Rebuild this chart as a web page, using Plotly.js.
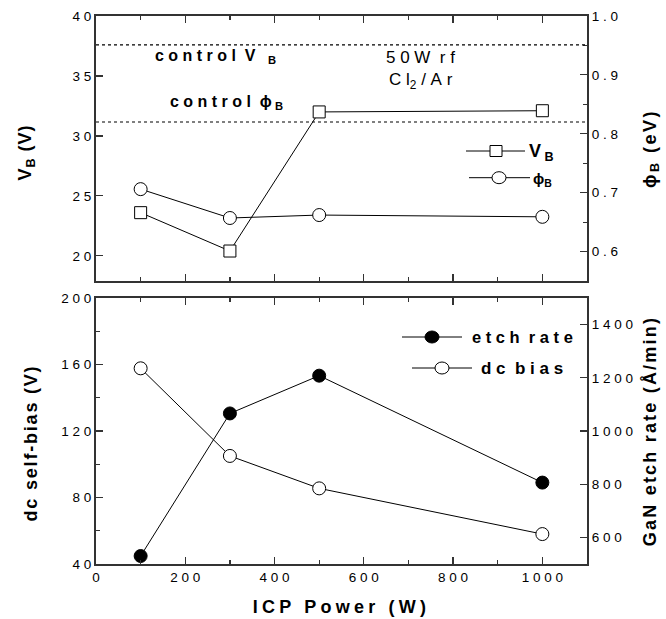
<!DOCTYPE html>
<html>
<head>
<meta charset="utf-8">
<script src="https://cdn.plot.ly/plotly-3.0.1.min.js"></script>
<style>html,body{margin:0;padding:0;background:#fff;}</style>
</head>
<body>
<div id="chart" style="width:666px;height:619px;"></div>
<script>
// ---- data ----
const icpPower = [100, 300, 500, 1000];
const vB = [23.6, 20.4, 32.0, 32.1];            // V_B (V), left top axis
const phiB = [0.706, 0.657, 0.662, 0.659];      // phi_B (eV), right top axis
const controlVB = 37.6;                         // dotted reference, V
const controlPhiB = 0.82;                       // dotted reference, eV
const dcBias = [157.7, 105.0, 85.5, 58.0];      // dc self-bias (V), left bottom
const etchRate = [530, 1066, 1208, 806];        // GaN etch rate (Å/min), right bottom
const xTickVals = [0, 200, 400, 600, 800, 1000];
const xTickText = ["0", "2 0 0", "4 0 0", "6 0 0", "8 0 0", "1 0 0 0"];
const yTopLTickVals = [20, 25, 30, 35, 40];
const yTopLTickText = ["2 0", "2 5", "3 0", "3 5", "4 0"];
const yTopRTickVals = [0.6, 0.7, 0.8, 0.9, 1.0];
const yTopRTickText = ["0 . 6", "0 . 7", "0 . 8", "0 . 9", "1 . 0"];
const yBotLTickVals = [40, 80, 120, 160, 200];
const yBotLTickText = ["4 0", "8 0", "1 2 0", "1 6 0", "2 0 0"];
const yBotRTickVals = [600, 800, 1000, 1200, 1400];
const yBotRTickText = ["6 0 0", "8 0 0", "1 0 0 0", "1 2 0 0", "1 4 0 0"];

const FONT = "Liberation Sans, Arial, sans-serif";
const AX = "#333333";
const NB = "\u00a0";

const baseAxis = {
  showline: true, linecolor: AX, linewidth: 2,
  ticks: "inside", ticklen: 7, tickwidth: 1.2, tickcolor: AX,
  showgrid: false, zeroline: false,
  tickfont: {family: FONT, size: 13.5, color: "#000"},
  tickmode: "array"
};

const traces = [
  {x: icpPower, y: vB, xaxis: "x2", yaxis: "y3", mode: "lines+markers", name: "V_B",
   line: {color: "#000", width: 1},
   marker: {symbol: "square", size: 12, color: "#fff", line: {color: "#000", width: 1}}},
  {x: icpPower, y: phiB, xaxis: "x2", yaxis: "y4", mode: "lines+markers", name: "phi_B",
   line: {color: "#000", width: 1},
   marker: {symbol: "circle", size: 13, color: "#fff", line: {color: "#000", width: 1}}},
  {x: icpPower, y: dcBias, xaxis: "x", yaxis: "y", mode: "lines+markers", name: "dc bias",
   line: {color: "#000", width: 1},
   marker: {symbol: "circle", size: 13, color: "#fff", line: {color: "#000", width: 1}}},
  {x: icpPower, y: etchRate, xaxis: "x", yaxis: "y2", mode: "lines+markers", name: "etch rate",
   line: {color: "#000", width: 1},
   marker: {symbol: "circle", size: 13, color: "#000", line: {color: "#000", width: 1}}}
];

// plot area pixels: x 96..587, y 16..564
const px = v => (v - 96) / 491;
const py = v => (564 - v) / 548;

const shapes = [
  {type: "line", xref: "x2 domain", x0: 0, x1: 1, yref: "y3", y0: controlVB, y1: controlVB,
   line: {color: "#000", width: 1.2, dash: "dot"}},
  {type: "line", xref: "x2 domain", x0: 0, x1: 1, yref: "y4", y0: controlPhiB, y1: controlPhiB,
   line: {color: "#000", width: 1.2, dash: "dot"}},
  // legend top
  {type: "line", xref: "paper", yref: "paper", x0: px(466), x1: px(525), y0: py(151), y1: py(151), line: {color: "#000", width: 1}},
  {type: "rect", xref: "paper", yref: "paper", xsizemode: "pixel", ysizemode: "pixel", xanchor: px(496), yanchor: py(151),
   x0: -6, x1: 6, y0: -5.5, y1: 5.5, fillcolor: "#fff", line: {color: "#000", width: 1}},
  {type: "line", xref: "paper", yref: "paper", x0: px(469), x1: px(530), y0: py(177.7), y1: py(177.7), line: {color: "#000", width: 1}},
  {type: "circle", xref: "paper", yref: "paper", xsizemode: "pixel", ysizemode: "pixel", xanchor: px(499), yanchor: py(177.7),
   x0: -7, x1: 7, y0: -6, y1: 6, fillcolor: "#fff", line: {color: "#000", width: 1}},
  // legend bottom
  {type: "line", xref: "paper", yref: "paper", x0: px(402), x1: px(462), y0: py(337), y1: py(337), line: {color: "#000", width: 1}},
  {type: "circle", xref: "paper", yref: "paper", xsizemode: "pixel", ysizemode: "pixel", xanchor: px(432), yanchor: py(337),
   x0: -7, x1: 7, y0: -6, y1: 6, fillcolor: "#000", line: {color: "#000", width: 1}},
  {type: "line", xref: "paper", yref: "paper", x0: px(412), x1: px(472), y0: py(368), y1: py(368), line: {color: "#000", width: 1}},
  {type: "circle", xref: "paper", yref: "paper", xsizemode: "pixel", ysizemode: "pixel", xanchor: px(442), yanchor: py(368),
   x0: -7, x1: 7, y0: -6, y1: 6, fillcolor: "#fff", line: {color: "#000", width: 1}}
];

const bold = {family: FONT, size: 16, color: "#000"};
const reg = {family: FONT, size: 17, color: "#000"};
const annotations = [
  {xref: "paper", yref: "paper", x: px(153), y: py(57), xanchor: "left", yanchor: "middle", showarrow: false,
   text: "<b>c o n t r o l  V<sub>" + NB + NB + NB + NB + "B</sub></b>", font: bold},
  {xref: "paper", yref: "paper", x: px(168), y: py(103), xanchor: "left", yanchor: "middle", showarrow: false,
   text: "<b>c o n t r o l  ϕ<sub>" + NB + "B</sub></b>", font: bold},
  {xref: "paper", yref: "paper", x: px(420), y: py(58), xanchor: "center", yanchor: "middle", showarrow: false,
   text: "5 0 W" + NB + NB + "r f", font: reg},
  {xref: "paper", yref: "paper", x: px(421), y: py(81), xanchor: "center", yanchor: "middle", showarrow: false,
   text: "C" + NB + "l<sub>2</sub>" + NB + "/" + NB + "A" + NB + "r", font: reg},
  {xref: "paper", yref: "paper", x: px(527), y: py(152), xanchor: "left", yanchor: "middle", showarrow: false,
   text: "<b>V<sub>" + NB + "B</sub></b>", font: {family: FONT, size: 18, color: "#000"}},
  {xref: "paper", yref: "paper", x: px(531), y: py(180), xanchor: "left", yanchor: "middle", showarrow: false,
   text: "<b>ϕ<sub>B</sub></b>", font: {family: FONT, size: 15, color: "#000"}},
  {xref: "paper", yref: "paper", x: px(470), y: py(337), xanchor: "left", yanchor: "middle", showarrow: false,
   text: "<b>e t c h  r a t e</b>", font: {family: FONT, size: 16.5, color: "#000"}},
  {xref: "paper", yref: "paper", x: px(479), y: py(368), xanchor: "left", yanchor: "middle", showarrow: false,
   text: "<b>d c  b i a s</b>", font: {family: FONT, size: 17, color: "#000"}}
];

const titleFont = {family: FONT, size: 18, color: "#000"};

const layout = {
  width: 666, height: 619,
  margin: {l: 96, r: 79, t: 16, b: 55},
  paper_bgcolor: "#fff", plot_bgcolor: "#fff",
  showlegend: false,
  font: {family: FONT, color: "#000"},
  xaxis: Object.assign({}, baseAxis, {
    domain: [0, 1], anchor: "y", range: [0, 1100], mirror: "ticks",
    tickvals: xTickVals, ticktext: xTickText,
    minor: {ticks: "inside", ticklen: 4, dtick: 100, tick0: 0, tickcolor: AX},
    title: {text: "<b>ICP Power (W)</b>", font: titleFont, standoff: 16}
  }),
  yaxis: Object.assign({}, baseAxis, {
    domain: [0, 0.4854], anchor: "x", range: [40, 200],
    tickvals: yBotLTickVals, ticktext: yBotLTickText,
    minor: {ticks: "inside", ticklen: 4, dtick: 20, tick0: 40, tickcolor: AX},
    title: {text: "<b>dc self-bias (V)</b>", font: titleFont, standoff: 19}
  }),
  yaxis2: Object.assign({}, baseAxis, {
    overlaying: "y", side: "right", anchor: "x", range: [500, 1500],
    tickvals: yBotRTickVals, ticktext: yBotRTickText,
    title: {text: "<b>GaN etch rate (Å/min)</b>", font: titleFont, standoff: 11}
  }),
  xaxis2: Object.assign({}, baseAxis, {
    domain: [0, 1], anchor: "y3", range: [0, 1100], mirror: "ticks",
    tickvals: xTickVals, showticklabels: false,
    minor: {ticks: "inside", ticklen: 4, dtick: 100, tick0: 0, tickcolor: AX}
  }),
  yaxis3: Object.assign({}, baseAxis, {
    domain: [0.5164, 1], anchor: "x2", range: [17.9, 40],
    tickvals: yTopLTickVals, ticktext: yTopLTickText,
    title: {text: "<b>V<sub>B</sub> (V)</b>", font: titleFont, standoff: 36}
  }),
  yaxis4: Object.assign({}, baseAxis, {
    overlaying: "y3", side: "right", anchor: "x2", range: [0.55, 1.0],
    tickvals: yTopRTickVals, ticktext: yTopRTickText,
    minor: {ticks: "inside", ticklen: 4, dtick: 0.05, tick0: 0.55, tickcolor: AX},
    title: {text: "<b>ϕ<sub>B</sub> (eV)</b>", font: titleFont, standoff: 26}
  }),
  shapes: shapes,
  annotations: annotations
};

const spacing = {xtitle: "4.2px", ytitle: "1.8px", y2title: "2.2px", y3title: "1px", y4title: "2.5px"};
const shiftDown = {ytitle: 12, y3title: 4};
Plotly.newPlot("chart", traces, layout, {displayModeBar: false, staticPlot: true}).then(function (gd) {
  Object.keys(spacing).forEach(function (cls) {
    gd.querySelectorAll("text." + cls).forEach(function (t) { t.style.letterSpacing = spacing[cls]; });
  });
  Object.keys(shiftDown).forEach(function (cls) {
    gd.querySelectorAll("text." + cls).forEach(function (t) {
      const tr = t.getAttribute("transform") || "";
      t.setAttribute("transform", "translate(0," + shiftDown[cls] + ") " + tr);
    });
  });
});
</script>
</body>
</html>
